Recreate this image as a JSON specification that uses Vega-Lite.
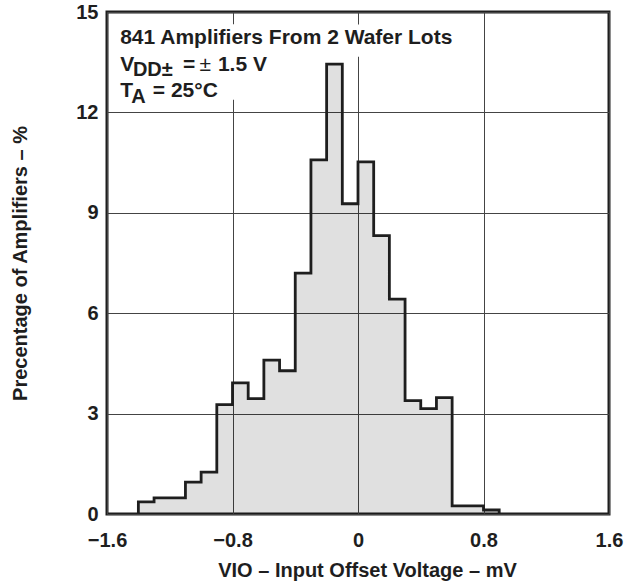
{
  "$schema": "https://vega.github.io/schema/vega-lite/v6.json",
  "width": 502,
  "height": 502,
  "autosize": "none",
  "padding": {"left": 107, "top": 12, "right": 17, "bottom": 71},
  "background": "white",
  "config": {
    "font": "Liberation Sans",
    "view": {"stroke": "#1e1e1e", "strokeWidth": 3},
    "axis": {
      "grid": true,
      "gridColor": "#444444",
      "gridWidth": 1,
      "domain": false,
      "tickSize": 0,
      "labelFlush": false,
      "labelFont": "Liberation Sans",
      "labelFontSize": 20,
      "labelFontWeight": "bold",
      "labelColor": "#1e1e1e",
      "titleFont": "Liberation Sans",
      "titleFontSize": 20,
      "titleFontWeight": "bold",
      "titleColor": "#1e1e1e",
      "zindex": 0
    }
  },
  "datasets": {
    "hist": [
      {"mv": -1.4, "pct": 0},
      {"mv": -1.4, "pct": 0.36},
      {"mv": -1.3, "pct": 0.48},
      {"mv": -1.2, "pct": 0.48},
      {"mv": -1.1, "pct": 0.95},
      {"mv": -1.0, "pct": 1.25},
      {"mv": -0.9, "pct": 3.27},
      {"mv": -0.8, "pct": 3.92},
      {"mv": -0.7, "pct": 3.45},
      {"mv": -0.6, "pct": 4.6},
      {"mv": -0.5, "pct": 4.28},
      {"mv": -0.4, "pct": 7.2},
      {"mv": -0.3, "pct": 10.58},
      {"mv": -0.2, "pct": 13.44},
      {"mv": -0.1, "pct": 9.27},
      {"mv": 0.0, "pct": 10.52},
      {"mv": 0.1, "pct": 8.32},
      {"mv": 0.2, "pct": 6.42},
      {"mv": 0.3, "pct": 3.39},
      {"mv": 0.4, "pct": 3.15},
      {"mv": 0.5, "pct": 3.48},
      {"mv": 0.6, "pct": 0.24},
      {"mv": 0.7, "pct": 0.24},
      {"mv": 0.8, "pct": 0.12},
      {"mv": 0.9, "pct": 0}
    ]
  },
  "layer": [
    {
      "data": {"name": "hist"},
      "mark": {"type": "area", "interpolate": "step-after", "fill": "black", "fillOpacity": 0.12},
      "encoding": {
        "x": {
          "field": "mv",
          "type": "quantitative",
          "scale": {"domain": [-1.6, 1.6], "nice": false, "zero": false},
          "axis": {
            "values": [-1.6, -0.8, 0, 0.8, 1.6],
            "labelExpr": "datum.value == 0 ? '0' : replace(format(datum.value, '.1f'), '-', '–')",
            "labelBaseline": "alphabetic",
            "labelPadding": 32,
            "labelDx": 4,
            "title": "VIO – Input Offset Voltage – mV",
            "titleBaseline": "alphabetic",
            "titleX": 260,
            "titleY": 62
          }
        },
        "y": {
          "field": "pct",
          "type": "quantitative",
          "scale": {"domain": [0, 15], "nice": false},
          "axis": {
            "values": [0, 3, 6, 9, 12, 15],
            "labelPadding": 9,
            "labelDy": 1,
            "title": "Precentage of Amplifiers – %",
            "titleBaseline": "middle",
            "titleX": -87
          }
        },
        "order": {"value": null}
      }
    },
    {
      "data": {"values": [{}]},
      "mark": {"type": "rect", "fill": "white"},
      "encoding": {
        "x": {"datum": -1.585},
        "x2": {"datum": 0.66},
        "y": {"datum": 13.66},
        "y2": {"datum": 14.63}
      }
    },
    {
      "data": {"values": [{}]},
      "mark": {"type": "rect", "fill": "white"},
      "encoding": {
        "x": {"datum": -1.585},
        "x2": {"datum": -0.55},
        "y": {"datum": 12.38},
        "y2": {"datum": 14.63}
      }
    },
    {
      "data": {"name": "hist"},
      "mark": {"type": "line", "interpolate": "step-after", "color": "#1e1e1e", "strokeWidth": 2.8},
      "encoding": {
        "x": {"field": "mv", "type": "quantitative"},
        "y": {"field": "pct", "type": "quantitative"},
        "order": {"value": null}
      }
    },
    {
      "data": {"values": [{}]},
      "mark": {"type": "text", "text": "841 Amplifiers From 2 Wafer Lots", "align": "left", "baseline": "alphabetic", "fontSize": 21, "fontWeight": "bold", "color": "#1e1e1e"},
      "encoding": {"x": {"datum": -1.516}, "y": {"datum": 14.03}}
    },
    {
      "data": {"values": [{}]},
      "mark": {"type": "text", "text": "V", "align": "left", "baseline": "alphabetic", "fontSize": 21, "fontWeight": "bold", "color": "#1e1e1e"},
      "encoding": {"x": {"datum": -1.516}, "y": {"datum": 13.25}}
    },
    {
      "data": {"values": [{}]},
      "mark": {"type": "text", "text": "DD±", "align": "left", "baseline": "alphabetic", "fontSize": 20, "fontWeight": "bold", "color": "#1e1e1e"},
      "encoding": {"x": {"datum": -1.435}, "y": {"datum": 13.1}}
    },
    {
      "data": {"values": [{}]},
      "mark": {"type": "text", "text": "=", "align": "left", "baseline": "alphabetic", "fontSize": 21, "fontWeight": "bold", "color": "#1e1e1e"},
      "encoding": {"x": {"datum": -1.116}, "y": {"datum": 13.25}}
    },
    {
      "data": {"values": [{}]},
      "mark": {"type": "text", "text": "±", "align": "left", "baseline": "alphabetic", "fontSize": 21, "fontWeight": "normal", "color": "#1e1e1e"},
      "encoding": {"x": {"datum": -1.01}, "y": {"datum": 13.25}}
    },
    {
      "data": {"values": [{}]},
      "mark": {"type": "text", "text": "1.5 V", "align": "left", "baseline": "alphabetic", "fontSize": 21, "fontWeight": "bold", "color": "#1e1e1e"},
      "encoding": {"x": {"datum": -0.893}, "y": {"datum": 13.25}}
    },
    {
      "data": {"values": [{}]},
      "mark": {"type": "text", "text": "T", "align": "left", "baseline": "alphabetic", "fontSize": 21, "fontWeight": "bold", "color": "#1e1e1e"},
      "encoding": {"x": {"datum": -1.516}, "y": {"datum": 12.46}}
    },
    {
      "data": {"values": [{}]},
      "mark": {"type": "text", "text": "A", "align": "left", "baseline": "alphabetic", "fontSize": 20, "fontWeight": "bold", "color": "#1e1e1e"},
      "encoding": {"x": {"datum": -1.446}, "y": {"datum": 12.29}}
    },
    {
      "data": {"values": [{}]},
      "mark": {"type": "text", "text": "= 25°C", "align": "left", "baseline": "alphabetic", "fontSize": 21, "fontWeight": "bold", "color": "#1e1e1e"},
      "encoding": {"x": {"datum": -1.308}, "y": {"datum": 12.46}}
    }
  ]
}
